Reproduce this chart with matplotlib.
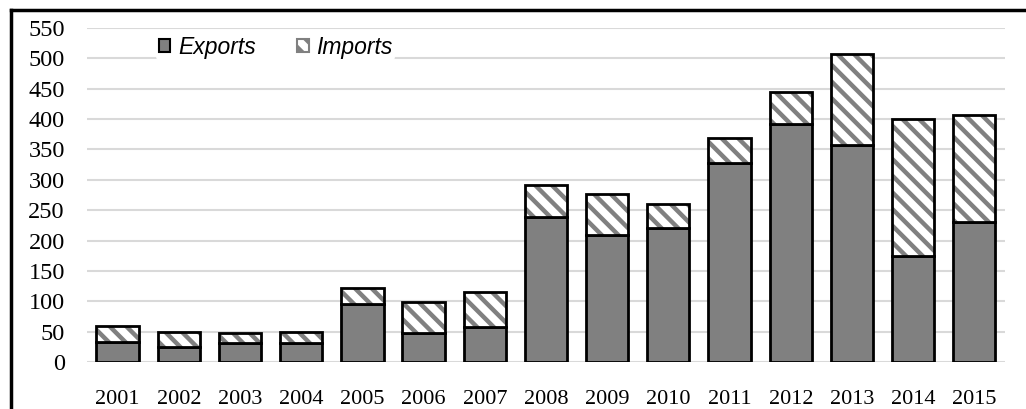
import matplotlib
matplotlib.use("Agg")
import matplotlib.pyplot as plt
from matplotlib.lines import Line2D
from matplotlib.patches import Patch
import numpy as np

years = ["2001", "2002", "2003", "2004", "2005", "2006", "2007", "2008",
         "2009", "2010", "2011", "2012", "2013", "2014", "2015"]
exports = [33, 25, 31, 31, 95, 48, 58, 238, 209, 220, 328, 392, 357, 174, 230]
imports = [26, 25, 17, 19, 26, 51, 58, 53, 67, 40, 41, 52, 150, 226, 177]
yticks = [0, 50, 100, 150, 200, 250, 300, 350, 400, 450, 500, 550]

plt.rcParams['hatch.linewidth'] = 3.2

fig = plt.figure(figsize=(10.26, 4.09), dpi=100)
ax = fig.add_axes([0.0848, 0.115, 0.8947, 0.8165])

x = np.arange(len(years))
width = 0.69
grey = "#808080"

ax.bar(x, exports, width, color=grey, edgecolor="black", linewidth=2, zorder=3)
# hatch layer first (grey lines), then black outline on top
ax.bar(x, imports, width, bottom=exports, color="white", edgecolor=grey,
       hatch="\\\\", linewidth=0, zorder=3)
ax.bar(x, imports, width, bottom=exports, fill=False, edgecolor="black",
       linewidth=2, zorder=4)

ax.set_xlim(-0.5, len(years) - 0.5)
ax.set_ylim(0, 550)
ax.set_yticks(yticks)
ax.set_xticks(x)
ax.set_xticklabels(years)
ax.yaxis.grid(True, color="#d9d9d9", linewidth=1.5, zorder=0)
ax.set_axisbelow(True)
for s in ax.spines.values():
    s.set_visible(False)
ax.tick_params(length=0)
ax.tick_params(axis='y', pad=16)
ax.tick_params(axis='x', pad=20)
for lbl in ax.get_yticklabels():
    lbl.set_fontfamily("Liberation Serif")
    lbl.set_fontsize(17.5)
for lbl in ax.get_xticklabels():
    lbl.set_fontfamily("Liberation Serif")
    lbl.set_fontsize(16)

handles = [Patch(facecolor=grey, edgecolor="black", linewidth=1.5),
           Patch(facecolor="white", edgecolor=grey, hatch="\\\\", linewidth=1.5)]
leg = ax.legend(handles, ["Exports", "Imports"], loc="center left",
                bbox_to_anchor=(0.063, 0.943), ncol=2, frameon=True,
                handlelength=0.5, handleheight=0.5, handletextpad=0.35,
                columnspacing=1.8, borderpad=0.1,
                prop={"family": "Liberation Sans", "style": "italic", "size": 16.5})
leg.get_frame().set_edgecolor("none")
leg.get_frame().set_facecolor("white")
leg.get_frame().set_alpha(1)

# outer frame: top and left edges
fig.add_artist(Line2D([0.0107, 1.0], [0.975, 0.975], color="black", linewidth=2.5,
                      transform=fig.transFigure))
fig.add_artist(Line2D([0.0107, 0.0107], [0.0, 0.975], color="black", linewidth=2.5,
                      transform=fig.transFigure))

fig.savefig("out.png", dpi=100)
